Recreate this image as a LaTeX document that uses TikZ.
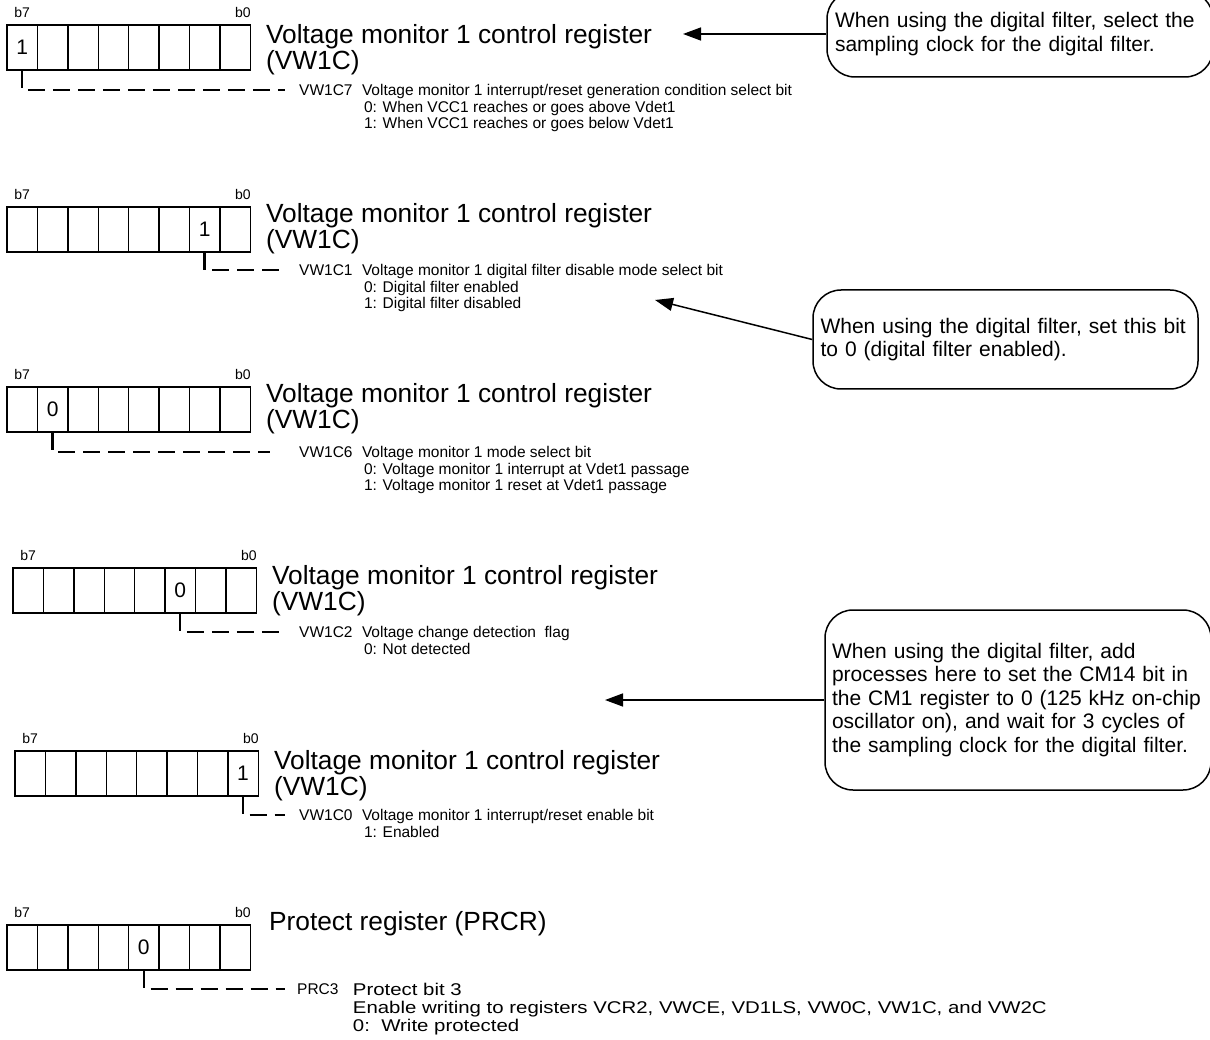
\documentclass[tikz,border=0pt]{standalone}
\usepackage{fontspec}
\setmainfont{Liberation Sans}
\newfontfamily\widesans[FakeStretch=1.2]{Liberation Sans}
\usetikzlibrary{arrows.meta,positioning,calc}

\tikzset{
  cell/.style={draw,line width=1.4pt,minimum width=30.4pt,minimum height=45pt,inner sep=0pt},
  bitno/.style={font=\fontsize{14}{15}\selectfont,inner sep=0pt},
  bitval/.style={font=\fontsize{21}{24}\selectfont,inner sep=0pt},
  regtitle/.style={font=\fontsize{26.3}{22}\selectfont,align=left,inner sep=0pt,anchor=north west},
  bitname/.style={font=\fontsize{15.5}{16.5}\selectfont,inner sep=0pt,anchor=west},
  bitdesc/.style={font=\fontsize{15.5}{16.5}\selectfont,align=left,inner sep=0pt,anchor=north west},
  leader/.style={line width=2.5pt,dash pattern=on 17pt off 8pt,shorten >=14pt},
  note/.style={draw,line width=1.5pt,rounded corners=28pt,align=left,inner xsep=7pt,font=\fontsize{21}{23.5}\selectfont},
  pointer/.style={-{Triangle[length=18pt,width=13pt]},line width=1.5pt}
}

\begin{document}
\begin{tikzpicture}[x=1pt,y=-1pt]
\useasboundingbox (0,0) rectangle (1210,1040);
% registers, bit 7 on the left
\foreach \r/\l/\t in {ra/7/25,rb/7/207,rc/7/387,rd/13/568,re/15/751,rf/7/925}{
  \foreach \b in {0,...,7}
    \node[cell] (\r\b) at ({\l+(7.5-\b)*30.4},{\t+22.5}) {};
  \node[bitno,anchor=south] (\r-hi) at ([yshift=6pt]\r7.north) {b7};
  \node[bitno,anchor=south east] (\r-lo) at ([yshift=6pt]\r0.north east) {b0};
}
\node[bitval] (ra-v) at (ra7) {1};
\node[bitval] (rb-v) at (rb1) {1};
\node[bitval] (rc-v) at (rc6) {0};
\node[bitval] (rd-v) at (rd2) {0};
\node[bitval] (re-v) at (re0) {1};
\node[bitval] (rf-v) at (rf3) {0};

% register names
\node[regtitle] (ra-t) at ([xshift=15pt]ra0.north east) {Voltage monitor 1 control register\\(VW1C)};
\node[regtitle] (rb-t) at ([xshift=15pt,yshift=3pt]rb0.north east) {Voltage monitor 1 control register\\(VW1C)};
\node[regtitle] (rc-t) at ([xshift=15pt,yshift=3pt]rc0.north east) {Voltage monitor 1 control register\\(VW1C)};
\node[regtitle] (rd-t) at ([xshift=15pt,yshift=2pt]rd0.north east) {Voltage monitor 1 control register\\(VW1C)};
\node[regtitle] (re-t) at ([xshift=15pt]re0.north east) {Voltage monitor 1 control register\\(VW1C)};
\node[regtitle] (rf-t) at ([xshift=18pt,yshift=13pt]rf0.north east) {Protect register (PRCR)};

% bit descriptions
\node[bitname] (ra-n) at (299,90) {VW1C7};
\node[bitdesc] (ra-d) at ([xshift=9pt]ra-n.north east) {Voltage monitor 1 interrupt/reset generation condition select bit\\\hspace*{2pt}0: When VCC1 reaches or goes above Vdet1\\\hspace*{2pt}1: When VCC1 reaches or goes below Vdet1};
\node[bitname] (rb-n) at (299,270) {VW1C1};
\node[bitdesc] (rb-d) at ([xshift=9pt]rb-n.north east) {Voltage monitor 1 digital filter disable mode select bit\\\hspace*{2pt}0: Digital filter enabled\\\hspace*{2pt}1: Digital filter disabled};
\node[bitname] (rc-n) at (299,452) {VW1C6};
\node[bitdesc] (rc-d) at ([xshift=9pt]rc-n.north east) {Voltage monitor 1 mode select bit\\\hspace*{2pt}0: Voltage monitor 1 interrupt at Vdet1 passage\\\hspace*{2pt}1: Voltage monitor 1 reset at Vdet1 passage};
\node[bitname] (rd-n) at (299,632) {VW1C2};
\node[bitdesc] (rd-d) at ([xshift=9pt]rd-n.north east) {Voltage change detection\ \ flag\\\hspace*{2pt}0: Not detected};
\node[bitname] (re-n) at (299,815) {VW1C0};
\node[bitdesc] (re-d) at ([xshift=9pt]re-n.north east) {Voltage monitor 1 interrupt/reset enable bit\\\hspace*{2pt}1: Enabled};
\node[bitname] (rf-n) at (297,989) {PRC3};
\node[bitdesc,font=\widesans\fontsize{17}{18}\selectfont] (rf-d) at ([xshift=14pt]rf-n.north east) {Protect bit 3\\Enable writing to registers VCR2, VWCE, VD1LS, VW0C, VW1C, and VW2C\\0:\ \ Write protected};

\draw[leader] (ra7.south) |- (ra-n);
\draw[leader] (rb1.south) |- (rb-n);
\draw[leader,shorten >=29pt] (rc6.south) |- (rc-n);
\draw[leader] (rd2.south) |- (rd-n);
\draw[leader] (re0.south) |- (re-n);
\draw[leader,shorten >=12pt] (rf3.south) |- (rf-n);

% notes
\node[note,minimum width=386pt,minimum height=86pt,text width=370pt] (na) at (1020,34) {When using the digital filter, select the\\sampling clock for the digital filter.};
\node[note,minimum width=385pt,minimum height=99pt,text width=370pt] (nb) at (1005.5,339.5) {When using the digital filter, set this bit\\to 0 (digital filter enabled).};
\node[note,minimum width=386pt,minimum height=180pt,text width=372pt] (nc) at (1018,700) {When using the digital filter, add\\processes here to set the CM14 bit in\\the CM1 register to 0 (125 kHz on-chip\\oscillator on), and wait for 3 cycles of\\the sampling clock for the digital filter.};
\coordinate (na-tip) at (683,34);
\coordinate (nb-tip) at (655,300);
\coordinate (nc-tip) at (605,700);
\draw[pointer] (na) -- (na-tip);
\draw[pointer] (nb.west) -- (nb-tip);
\draw[pointer] (nc) -- (nc-tip);
\end{tikzpicture}
\end{document}
